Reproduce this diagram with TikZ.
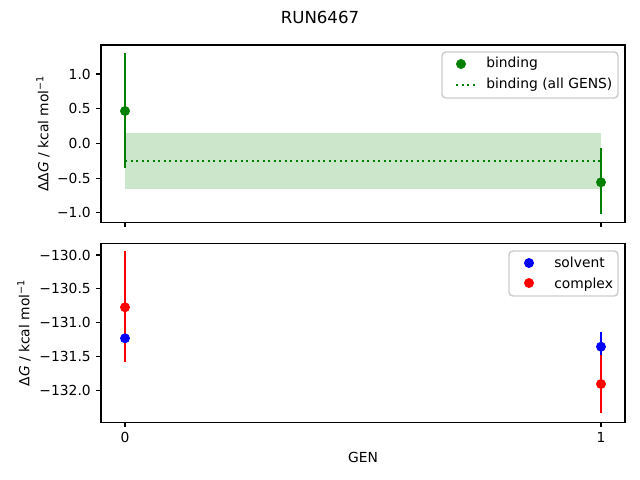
\documentclass[tikz,border=0pt]{standalone}
\usepackage{fontspec}
\setmainfont{DejaVu Sans}
\definecolor{mplgreen}{RGB}{0,128,0}
\definecolor{legedge}{RGB}{204,204,204}

\begin{document}
\begin{tikzpicture}[x=0.01in, y=-0.01in, font=\fontsize{10}{12}\selectfont,
	errline/.style={line width=1.5pt},
	dot/.style={fill=#1, draw=none},
	axframe/.style={line width=0.8pt},
	tickmark/.style={line width=0.8pt},
	legbox/.style={draw=legedge, fill=white, fill opacity=0.8, line width=1pt, rounded corners=2.8}]
			\useasboundingbox (0,0) rectangle (640,480);

			% title
			\draw(320, 17) node (title) {\fontsize{12}{14}\selectfont RUN6467};

			% upper panel: band and mean over all GENS
			\fill[mplgreen, fill opacity=0.2] (125,133.3) rectangle (601,189.3);
			\draw[mplgreen, errline, dash pattern=on 1.5pt off 2.475pt] (125,160.7)--(601,160.7);

			% binding error bars and points
			\draw[mplgreen, errline] (125,53.3)--(125,168.3);
			\draw[mplgreen, errline] (601,148.3)--(601,214.3);
			\fill[dot=mplgreen] (125,111) circle (3.6pt);
			\fill[dot=mplgreen] (601,182.3) circle (3.6pt);

			% upper frame
			\draw[axframe] (101,45) rectangle (625,222.5);
			\draw[tickmark] (125,222.5)--(125,227.4);
			\draw[tickmark] (601,222.5)--(601,227.4);

			% upper y ticks
			\draw[tickmark] (101,74)--(96.1,74);
			\draw(91, 74) node[anchor=east, inner sep=0] (ta) {1.0};
			\draw[tickmark] (101,108.7)--(96.1,108.7);
			\draw(91, 108.7) node[anchor=east, inner sep=0] (tb) {0.5};
			\draw[tickmark] (101,143.4)--(96.1,143.4);
			\draw(91, 143.4) node[anchor=east, inner sep=0] (tc) {0.0};
			\draw[tickmark] (101,178.1)--(96.1,178.1);
			\draw(91, 178.1) node[anchor=east, inner sep=0] (td) {−0.5};
			\draw[tickmark] (101,212.8)--(96.1,212.8);
			\draw(91, 212.8) node[anchor=east, inner sep=0] (te) {−1.0};

			% upper y label
			\draw(43, 133.5) node[rotate=90] (ylabtop) {ΔΔ\textit{G} / kcal mol\textsuperscript{−1}};

			% upper legend
			\draw[legbox] (442,52) rectangle (618,98);
			\fill[dot=mplgreen] (461,64) circle (3.6pt);
			\draw(486, 68) node[anchor=base west, inner sep=0] (legbind) {binding};
			\draw[mplgreen, errline, dash pattern=on 1.5pt off 2.475pt] (456,85)--(475,85);
			\draw(486, 89) node[anchor=base west, inner sep=0] (legall) {binding (all GENS)};

			% lower panel: error bars
			\draw[blue, errline] (125,330)--(125,346.6);
			\draw[blue, errline] (601,331.7)--(601,361.7);
			\draw[red, errline] (125,250.7)--(125,361.7);
			\draw[red, errline] (601,355)--(601,413.3);

			% solvent and complex points
			\fill[dot=blue] (125,338.3) circle (3.6pt);
			\fill[dot=blue] (601,346.7) circle (3.6pt);
			\fill[dot=red] (125,307.3) circle (3.6pt);
			\fill[dot=red] (601,384) circle (3.6pt);

			% lower frame
			\draw[axframe] (101,243.3) rectangle (625,422.3);
			\draw[tickmark] (125,422.3)--(125,427.2);
			\draw(125, 437) node (gen0) {0};
			\draw[tickmark] (601,422.3)--(601,427.2);
			\draw(601, 437) node (gen1) {1};
			\draw(363, 457) node (xlab) {GEN};

			% lower y ticks
			\draw[tickmark] (101,255)--(96.1,255);
			\draw(91, 255) node[anchor=east, inner sep=0] (ua) {−130.0};
			\draw[tickmark] (101,288.8)--(96.1,288.8);
			\draw(91, 288.8) node[anchor=east, inner sep=0] (ub) {−130.5};
			\draw[tickmark] (101,322.6)--(96.1,322.6);
			\draw(91, 322.6) node[anchor=east, inner sep=0] (uc) {−131.0};
			\draw[tickmark] (101,356.4)--(96.1,356.4);
			\draw(91, 356.4) node[anchor=east, inner sep=0] (ud) {−131.5};
			\draw[tickmark] (101,390.2)--(96.1,390.2);
			\draw(91, 390.2) node[anchor=east, inner sep=0] (ue) {−132.0};

			% lower y label
			\draw(24, 333) node[rotate=90] (ylabbot) {Δ\textit{G} / kcal mol\textsuperscript{−1}};

			% lower legend
			\draw[legbox] (509,251) rectangle (618,296);
			\fill[dot=blue] (529,263) circle (3.6pt);
			\draw(554, 267.3) node[anchor=base west, inner sep=0] (legsolv) {solvent};
			\fill[dot=red] (529,283) circle (3.6pt);
			\draw(554, 288.3) node[anchor=base west, inner sep=0] (legcomp) {complex};
		\end{tikzpicture}
\end{document}
